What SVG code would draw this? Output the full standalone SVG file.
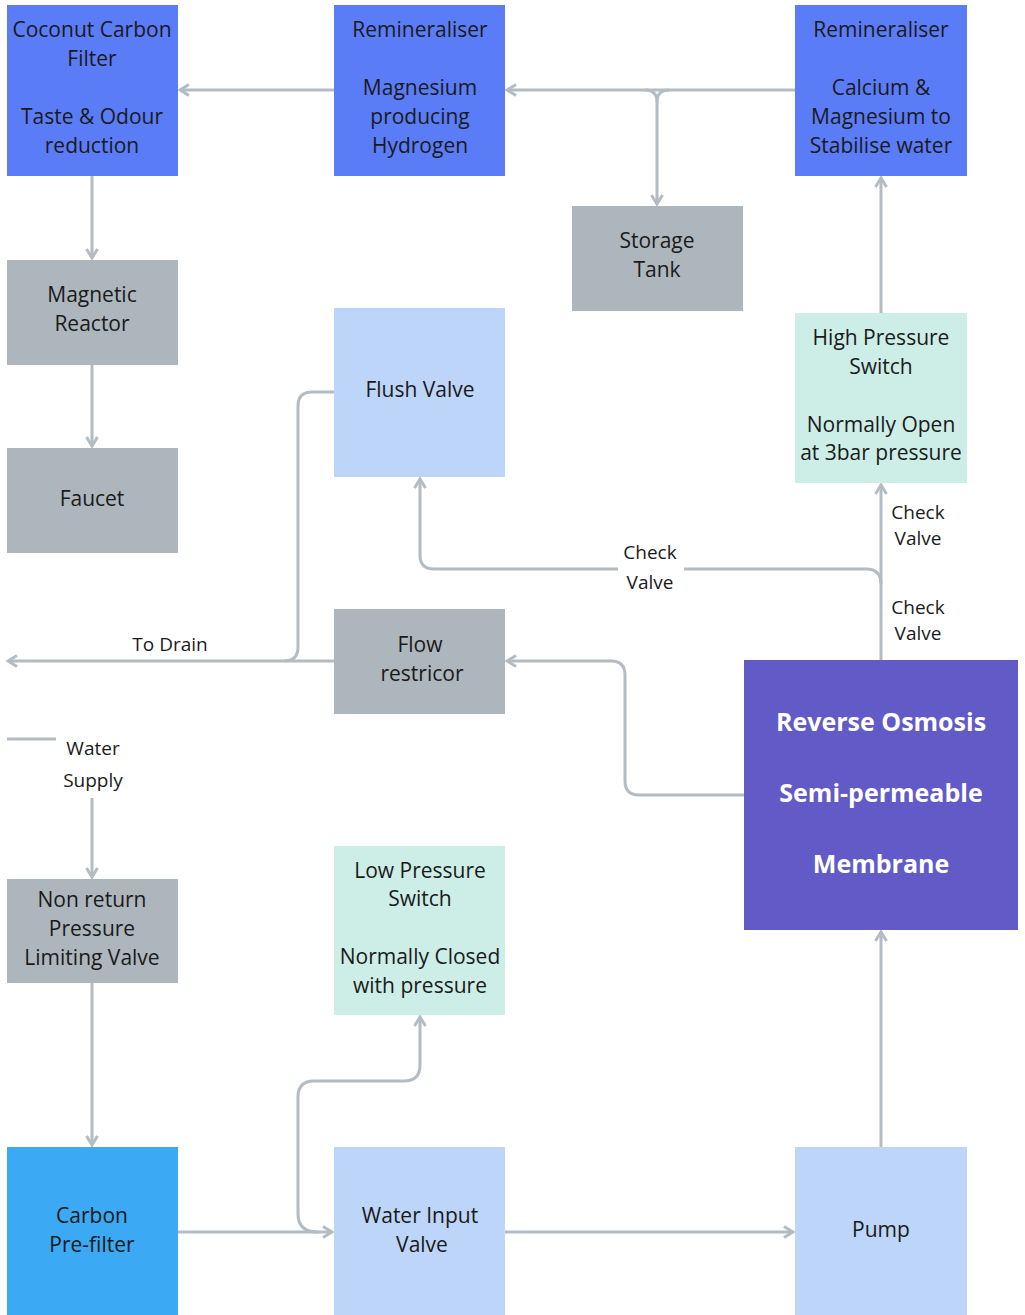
<svg xmlns="http://www.w3.org/2000/svg" width="1025" height="1315" viewBox="0 0 1025 1315">
<style>
text{font-family:"Open Sans","Noto Sans","DejaVu Sans",sans-serif;font-size:21px;fill:#1a1a1a;text-anchor:middle}
.lbl{font-size:19px}
.ro{font-size:25px;font-weight:bold;fill:#fff}
.blue{fill:#5b7cf7}.gray{fill:#adb6bc}.lb{fill:#bcd5f8}.mint{fill:#cdeee6}.cyan{fill:#3ba9f3}.purple{fill:#625ac6}
.c{fill:none;stroke:#b4bcc3;stroke-width:3}
</style>
<defs>
<marker id="ah" viewBox="0 0 14 14" refX="12" refY="7" markerWidth="14" markerHeight="14" markerUnits="userSpaceOnUse" orient="auto">
<polyline points="3,1.5 12,7 3,12.5" fill="none" stroke="#b4bcc3" stroke-width="3"/>
</marker>
</defs>
<rect width="1025" height="1315" fill="#fff"/>
<g id="connectors">
<path class="c" d="M795 90 H507" marker-end="url(#ah)"/>
<path class="c" d="M645 90 Q657 90 657 102 V204" marker-end="url(#ah)"/>
<path class="c" d="M669 90 Q657 90 657 102"/>
<path class="c" d="M334 90 H180" marker-end="url(#ah)"/>
<path class="c" d="M92 176 V258" marker-end="url(#ah)"/>
<path class="c" d="M92 365 V446" marker-end="url(#ah)"/>
<path class="c" d="M881 313 V178" marker-end="url(#ah)"/>
<path class="c" d="M881 660 V485" marker-end="url(#ah)"/>
<path class="c" d="M881 584 Q881 569 866 569 H684"/>
<path class="c" d="M618 569 H434 Q420 569 420 555 V479" marker-end="url(#ah)"/>
<path class="c" d="M334 392 H312 Q298 392 298 406 V647 Q298 661 284 661"/>
<path class="c" d="M334 661 H8" marker-end="url(#ah)"/>
<path class="c" d="M744 795 H639 Q625 795 625 781 V675 Q625 661 611 661 H507" marker-end="url(#ah)"/>
<path class="c" d="M7 739 H56"/>
<path class="c" d="M92 798 V877" marker-end="url(#ah)"/>
<path class="c" d="M92 983 V1145" marker-end="url(#ah)"/>
<path class="c" d="M178 1232 H332" marker-end="url(#ah)"/>
<path class="c" d="M318 1232 Q298 1232 298 1214 V1097 Q298 1081 314 1081 H404 Q420 1081 420 1065 V1017" marker-end="url(#ah)"/>
<path class="c" d="M505 1232 H793" marker-end="url(#ah)"/>
<path class="c" d="M881 1147 V932" marker-end="url(#ah)"/>
</g>
<g id="labels">
<text class="lbl" x="918" y="519">Check</text>
<text class="lbl" x="918" y="545">Valve</text>
<text class="lbl" x="918" y="614">Check</text>
<text class="lbl" x="918" y="640">Valve</text>
<text class="lbl" x="650" y="559">Check</text>
<text class="lbl" x="650" y="589">Valve</text>
<text class="lbl" x="170" y="651">To Drain</text>
<text class="lbl" x="93" y="755">Water</text>
<text class="lbl" x="93" y="787">Supply</text>
</g>
<g id="coconut"><rect class="blue" x="7" y="5" width="171" height="171"/>
<text x="92" y="37">Coconut Carbon</text><text x="92" y="66">Filter</text><text x="92" y="124">Taste &amp; Odour</text><text x="92" y="153">reduction</text></g>
<g id="remin-mg"><rect class="blue" x="334" y="5" width="171" height="171"/>
<text x="420" y="37">Remineraliser</text><text x="420" y="95">Magnesium</text><text x="420" y="124">producing</text><text x="420" y="153">Hydrogen</text></g>
<g id="remin-ca"><rect class="blue" x="795" y="5" width="172" height="171"/>
<text x="881" y="37">Remineraliser</text><text x="881" y="95">Calcium &amp;</text><text x="881" y="124">Magnesium to</text><text x="881" y="153">Stabilise water</text></g>
<g id="storage"><rect class="gray" x="572" y="206" width="171" height="105"/>
<text x="657" y="248">Storage</text><text x="657" y="277">Tank</text></g>
<g id="magnetic"><rect class="gray" x="7" y="260" width="171" height="105"/>
<text x="92" y="302">Magnetic</text><text x="92" y="331">Reactor</text></g>
<g id="faucet"><rect class="gray" x="7" y="448" width="171" height="105"/>
<text x="92" y="506">Faucet</text></g>
<g id="flush"><rect class="lb" x="334" y="308" width="171" height="169"/>
<text x="420" y="397">Flush Valve</text></g>
<g id="hps"><rect class="mint" x="795" y="313" width="172" height="170"/>
<text x="881" y="345">High Pressure</text><text x="881" y="374">Switch</text><text x="881" y="432">Normally Open</text><text x="881" y="460">at 3bar pressure</text></g>
<g id="flow"><rect class="gray" x="334" y="609" width="171" height="105"/>
<text x="420" y="652">Flow</text><text x="422" y="681">restricor</text></g>
<g id="ro"><rect class="purple" x="744" y="660" width="274" height="270"/>
<text class="ro" x="881" y="731">Reverse Osmosis</text><text class="ro" x="881" y="802">Semi-permeable</text><text class="ro" x="881" y="873">Membrane</text></g>
<g id="nonreturn"><rect class="gray" x="7" y="879" width="171" height="104"/>
<text x="92" y="907">Non return</text><text x="92" y="936">Pressure</text><text x="92" y="965">Limiting Valve</text></g>
<g id="lps"><rect class="mint" x="334" y="846" width="171" height="169"/>
<text x="420" y="878">Low Pressure</text><text x="420" y="906">Switch</text><text x="420" y="964">Normally Closed</text><text x="420" y="993">with pressure</text></g>
<g id="prefilter"><rect class="cyan" x="7" y="1147" width="171" height="168"/>
<text x="92" y="1223">Carbon</text><text x="92" y="1252">Pre-filter</text></g>
<g id="input"><rect class="lb" x="334" y="1147" width="171" height="168"/>
<text x="420" y="1223">Water Input</text><text x="422" y="1252">Valve</text></g>
<g id="pump"><rect class="lb" x="795" y="1147" width="172" height="168"/>
<text x="881" y="1237">Pump</text></g>
</svg>
